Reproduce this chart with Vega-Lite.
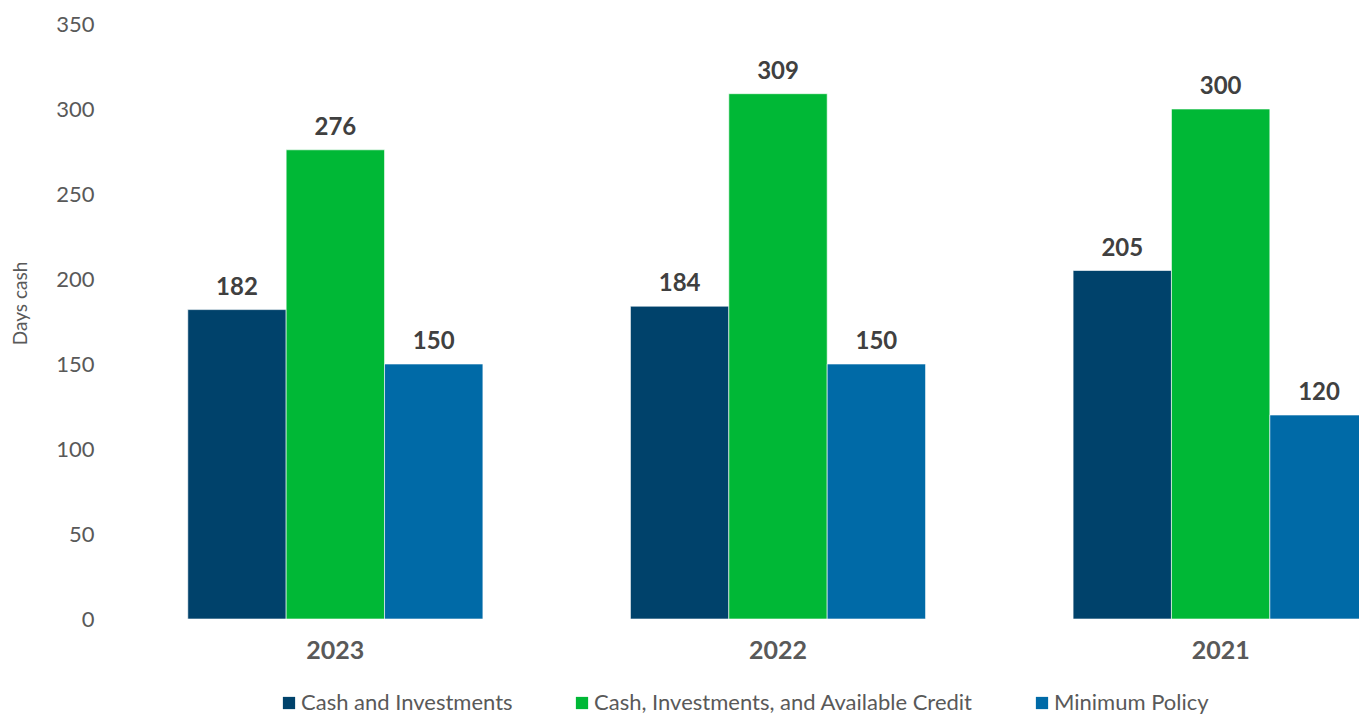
{
  "$schema": "https://vega.github.io/schema/vega-lite/v6.json",
  "width": 1328,
  "height": 595,
  "autosize": {"type": "none"},
  "padding": {"left": 114, "top": 24, "right": 0, "bottom": 95},
  "config": {
    "view": {"stroke": null},
    "font": "Lato",
    "axis": {"labelColor": "#595959", "titleColor": "#595959", "grid": false, "domain": false, "ticks": false}
  },
  "data": {
    "values": [
      {"year": "2023", "series": "Cash and Investments", "value": 182},
      {"year": "2023", "series": "Cash, Investments, and Available Credit", "value": 276},
      {"year": "2023", "series": "Minimum Policy", "value": 150},
      {"year": "2022", "series": "Cash and Investments", "value": 184},
      {"year": "2022", "series": "Cash, Investments, and Available Credit", "value": 309},
      {"year": "2022", "series": "Minimum Policy", "value": 150},
      {"year": "2021", "series": "Cash and Investments", "value": 205},
      {"year": "2021", "series": "Cash, Investments, and Available Credit", "value": 300},
      {"year": "2021", "series": "Minimum Policy", "value": 120}
    ]
  },
  "encoding": {
    "x": {
      "field": "year", "type": "nominal", "sort": ["2023", "2022", "2021"],
      "scale": {"paddingInner": 0.3333, "paddingOuter": 0.1667},
      "axis": {"title": null, "labelAngle": 0, "labelFontSize": 25, "labelFontWeight": "bold", "labelPadding": 19}
    },
    "xOffset": {
      "field": "series", "type": "nominal",
      "sort": ["Cash and Investments", "Cash, Investments, and Available Credit", "Minimum Policy"],
      "scale": {"paddingInner": 0, "paddingOuter": 0}
    },
    "y": {
      "field": "value", "type": "quantitative",
      "scale": {"domain": [0, 350], "nice": false},
      "axis": {"title": "Days cash", "values": [0, 50, 100, 150, 200, 250, 300, 350], "labelFontSize": 22, "labelPadding": 20, "titleFontSize": 19, "titleFontWeight": "normal", "titleX": -94, "titleY": 279, "titleBaseline": "middle", "titleAlign": "center", "titleAngle": -90}
    }
  },
  "layer": [
    {
      "mark": {"type": "bar", "stroke": "#ffffff", "strokeWidth": 0.6},
      "encoding": {
        "color": {
          "field": "series", "type": "nominal",
          "sort": ["Cash and Investments", "Cash, Investments, and Available Credit", "Minimum Policy"],
          "scale": {"range": ["#00426b", "#00b836", "#006aa7"]},
          "legend": {
            "title": null, "orient": "none", "direction": "horizontal",
            "legendX": 164, "legendY": 668,
            "symbolType": "square", "symbolSize": 150, "symbolStrokeWidth": 0,
            "labelFontSize": 22, "labelColor": "#595959", "labelOffset": 1,
            "columnPadding": 58, "labelLimit": 500
          }
        }
      }
    },
    {
      "mark": {"type": "text", "baseline": "bottom", "dy": -10, "fontSize": 24, "fontWeight": "bold", "color": "#404040"},
      "encoding": {"text": {"field": "value", "type": "quantitative"}}
    }
  ]
}
